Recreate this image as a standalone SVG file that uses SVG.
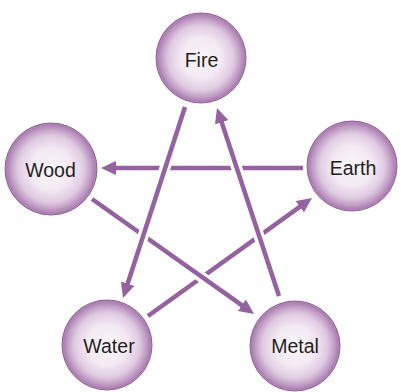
<svg xmlns="http://www.w3.org/2000/svg" width="401" height="392" viewBox="0 0 401 392">
  <defs>
    <radialGradient id="ball" cx="0.5" cy="0.5" r="0.5">
      <stop offset="0" stop-color="#faf6fa"/>
      <stop offset="0.45" stop-color="#f3e9f3"/>
      <stop offset="0.72" stop-color="#e0cbe2"/>
      <stop offset="0.88" stop-color="#c09cc4"/>
      <stop offset="0.96" stop-color="#ab80b1"/>
      <stop offset="1" stop-color="#b891bd"/>
    </radialGradient>
    <marker id="head" markerUnits="userSpaceOnUse" viewBox="0 0 15 14" refX="5" refY="7" markerWidth="15" markerHeight="14" orient="auto">
      <path d="M0,0 L15,7 L0,14 Z" fill="#93629f"/>
    </marker>
    <style>
      .node circle { fill: url(#ball); stroke: #8f5c98; stroke-width: 1; }
      .node text { font-family: "Liberation Sans", Arial, sans-serif; font-size: 19.5px; fill: #231f20; text-anchor: middle; }
      .halo { stroke: #ffffff; stroke-width: 11; fill: none; }
      .line { stroke: #93629f; stroke-width: 4.5; fill: none; marker-end: url(#head); }
    </style>
  </defs>

  <g id="connectors">
    <!-- Earth -> Wood -->
    <line class="line" x1="303" y1="168" x2="111" y2="168"/>
    <!-- Water -> Earth -->
    <line class="halo" x1="160" y1="307" x2="292" y2="212"/>
    <line class="line" x1="148" y1="316" x2="303.9" y2="203.8"/>
    <!-- Wood -> Metal -->
    <line class="halo" x1="104" y1="208" x2="234" y2="300"/>
    <line class="line" x1="92" y1="199" x2="245.9" y2="308.2"/>
    <!-- Fire -> Water -->
    <line class="halo" x1="180" y1="121" x2="131" y2="274"/>
    <line class="line" x1="185" y1="107" x2="126.1" y2="288.5"/>
    <!-- Metal -> Fire -->
    <line class="halo" x1="274" y1="282" x2="225" y2="132"/>
    <line class="line" x1="279" y1="296" x2="220.1" y2="117.5"/>
  </g>

  <g id="fire" class="node">
    <circle cx="201" cy="58" r="45"/>
    <text x="201.5" y="66.5">Fire</text>
  </g>
  <g id="wood" class="node">
    <circle cx="51" cy="169" r="46"/>
    <text x="50.5" y="176.5">Wood</text>
  </g>
  <g id="earth" class="node">
    <circle cx="352" cy="166" r="45"/>
    <text x="353" y="175">Earth</text>
  </g>
  <g id="water" class="node">
    <circle cx="107" cy="345" r="45"/>
    <text x="109" y="353">Water</text>
  </g>
  <g id="metal" class="node">
    <circle cx="295" cy="346" r="45"/>
    <text x="295" y="353">Metal</text>
  </g>
</svg>
